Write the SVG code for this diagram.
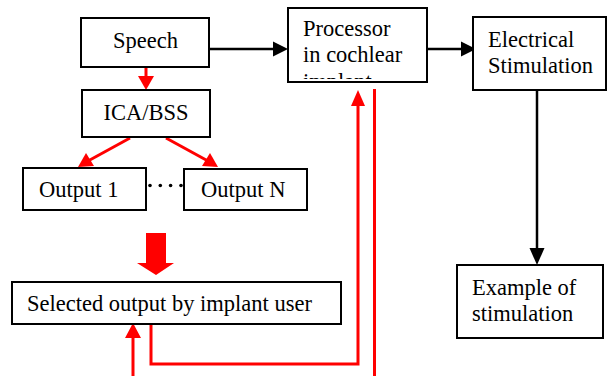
<svg xmlns="http://www.w3.org/2000/svg" width="607" height="376" viewBox="0 0 607 376">
  <style>
    .box { fill: #fff; stroke: #000; stroke-width: 2; }
    .lbl { font-family: 'Liberation Serif', 'Times New Roman', serif; font-size: 22.5px; fill: #000; }
    .mid { text-anchor: middle; }
    .blk { stroke: #000; stroke-width: 2.5; fill: none; }
    .red { stroke: #ff0000; stroke-width: 3; fill: none; }
    .headK { fill: #000; }
    .headR { fill: #ff0000; }
  </style>
  <defs>
    <!-- text area of the processor box; the third line is cut off by it -->
    <clipPath id="procClip">
      <rect x="289" y="9" width="137" height="70"/>
    </clipPath>
  </defs>
  <rect width="607" height="376" fill="#fff"/>

  <g id="connectors">
    <!-- Speech -> Processor -->
    <line class="blk" x1="202" y1="49" x2="276" y2="49"/>
    <polygon class="headK" points="288,49 273,41.5 273,56.5"/>
    <!-- Processor -> Electrical Stimulation -->
    <line class="blk" x1="427" y1="49" x2="464" y2="49"/>
    <polygon class="headK" points="476,49 461,41.5 461,56.5"/>
    <!-- Electrical Stimulation -> Example -->
    <line class="blk" x1="537" y1="90" x2="537" y2="252"/>
    <polygon class="headK" points="537,265 529.5,248 544.5,248"/>
    <!-- Speech -> ICA/BSS -->
    <line class="red" x1="146" y1="62" x2="146" y2="78"/>
    <polygon class="headR" points="146,90 138,76 154,76"/>
    <!-- ICA/BSS -> Output 1 -->
    <line class="red" x1="130" y1="138" x2="88" y2="161"/>
    <polygon class="headR" points="78,167 86,153 94,166"/>
    <!-- ICA/BSS -> Output N -->
    <line class="red" x1="166" y1="138" x2="208" y2="161"/>
    <polygon class="headR" points="218,167 202,166 210,153"/>
    <!-- dots between outputs -->
    <g fill="#000">
      <circle cx="150" cy="185.5" r="1.8"/>
      <circle cx="160.3" cy="185.5" r="1.8"/>
      <circle cx="170.6" cy="185.5" r="1.8"/>
      <circle cx="181" cy="185.5" r="1.8"/>
    </g>
    <!-- block arrow into selection -->
    <polygon class="headR" points="146,233 166,233 166,263 174,263 156,275 137,263 146,263"/>
    <!-- input arriving from below -->
    <line class="red" x1="133" y1="376" x2="133" y2="336"/>
    <polygon class="headR" points="133,323 125,338 141,338"/>
    <!-- selection fed back to processor -->
    <polyline class="red" points="151,323 151,364 358,364 358,104"/>
    <polygon class="headR" points="358,90 351,106 365,106"/>
    <!-- line from processor downward -->
    <line class="red" x1="374.5" y1="89" x2="374.5" y2="376"/>
  </g>

  <g id="speech">
    <rect class="box" x="81" y="18" width="128" height="49"/>
    <text class="lbl mid" x="145.5" y="48">Speech</text>
  </g>

  <g id="processor">
    <rect class="box" x="288" y="8" width="139" height="74"/>
    <g clip-path="url(#procClip)">
      <text class="lbl" x="303" y="36">Processor</text>
      <text class="lbl" x="303" y="62">in cochlear</text>
      <text class="lbl" x="303" y="89">implant</text>
    </g>
  </g>

  <g id="electrical">
    <rect class="box" x="473" y="17" width="133" height="73"/>
    <text class="lbl" x="488" y="47">Electrical</text>
    <text class="lbl" x="488" y="73">Stimulation</text>
  </g>

  <g id="example">
    <rect class="box" x="457" y="265" width="146" height="73"/>
    <text class="lbl" x="472" y="295">Example of</text>
    <text class="lbl" x="472" y="321">stimulation</text>
  </g>

  <g id="ica">
    <rect class="box" x="82" y="90" width="128" height="47"/>
    <text class="lbl mid" x="146" y="120">ICA/BSS</text>
  </g>

  <g id="output1">
    <rect class="box" x="23" y="168" width="123" height="42"/>
    <text class="lbl" x="39" y="197">Output 1</text>
  </g>

  <g id="outputN">
    <rect class="box" x="184" y="169" width="123" height="41"/>
    <text class="lbl" x="201" y="197">Output N</text>
  </g>

  <g id="selected">
    <rect class="box" x="12" y="282" width="329" height="42"/>
    <text class="lbl" x="27" y="311">Selected output by implant user</text>
  </g>
</svg>
